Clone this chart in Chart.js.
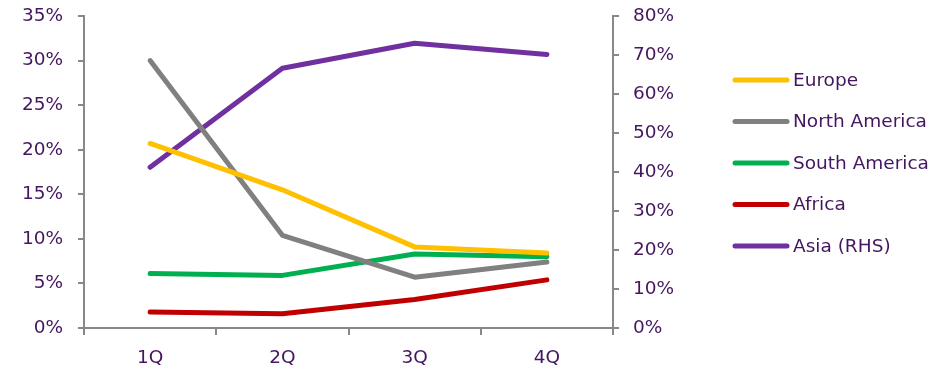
<!DOCTYPE html>
<html>
<head>
<meta charset="utf-8">
<script src="https://cdn.jsdelivr.net/npm/chart.js@4.4.1/dist/chart.umd.min.js"></script>
<style>
  html, body { margin: 0; padding: 0; background: #ffffff; }
  #wrap { width: 933px; height: 370px; position: relative; }
</style>
</head>
<body>
<div id="wrap"><canvas id="chart"></canvas></div>
<script>
// Regional shares by quarter (per cent)
const quarters = ['1Q', '2Q', '3Q', '4Q'];
const europe = [20.7, 15.5, 9.1, 8.4];
const northAmerica = [30.0, 10.4, 5.7, 7.4];
const southAmerica = [6.1, 5.9, 8.3, 8.0];
const africa = [1.8, 1.6, 3.2, 5.4];
const asiaRhs = [41.2, 66.6, 73.0, 70.1];

const leftTicks = [0, 5, 10, 15, 20, 25, 30, 35];
const rightTicks = [0, 10, 20, 30, 40, 50, 60, 70, 80];

const TEXT = '#44165f';
const AXIS = '#888888';
const FONT = { family: '"DejaVu Sans", Verdana, sans-serif', size: 18.5 };
const LINE_W = 5;

function series(label, data, color, axis) {
  return {
    label, data, yAxisID: axis,
    borderColor: color, backgroundColor: color,
    borderWidth: LINE_W, pointRadius: 0, tension: 0,
    borderCapStyle: 'round', borderJoinStyle: 'round'
  };
}

// Legend drawn to the right of the plot from the dataset labels and colours
const sideLegend = {
  id: 'sideLegend',
  afterDraw(chart) {
    const ctx = chart.ctx;
    const x0 = 735, x1 = 787, textX = 793, y0 = 80, step = 41.5;
    ctx.save();
    ctx.font = `${FONT.size}px ${FONT.family}`;
    ctx.textBaseline = 'middle';
    ctx.textAlign = 'left';
    chart.data.datasets.forEach((ds, i) => {
      const y = y0 + i * step;
      ctx.strokeStyle = ds.borderColor;
      ctx.lineWidth = LINE_W;
      ctx.lineCap = 'round';
      ctx.beginPath();
      ctx.moveTo(x0, y);
      ctx.lineTo(x1, y);
      ctx.stroke();
      ctx.fillStyle = TEXT;
      ctx.fillText(ds.label, textX, y + 1);
    });
    ctx.restore();
  }
};

// Fixed axis sizes so the plot spans x 84..613, y 16..328
function fitVertical(width) {
  return scale => {
    scale.width = width;
    scale.paddingTop = 0;
    scale.paddingBottom = 0;
  };
}

new Chart(document.getElementById('chart'), {
  type: 'line',
  data: {
    labels: quarters,
    datasets: [
      series('Europe', europe, '#ffc000', 'yL'),
      series('North America', northAmerica, '#808080', 'yL'),
      series('South America', southAmerica, '#00b050', 'yL'),
      series('Africa', africa, '#c00000', 'yL'),
      series('Asia (RHS)', asiaRhs, '#7030a0', 'yR')
    ]
  },
  options: {
    responsive: true,
    maintainAspectRatio: false,
    animation: false,
    layout: { padding: { left: 0, right: 260, top: 16, bottom: 0 } },
    plugins: { legend: { display: false }, tooltip: { enabled: false } },
    scales: {
      x: {
        type: 'category',
        offset: true,
        grid: { display: true, offset: true, drawOnChartArea: false, drawTicks: true, tickLength: 7, color: AXIS, lineWidth: 2 },
        border: { display: true, color: AXIS, width: 2 },
        ticks: { color: TEXT, font: FONT, padding: 12 },
        afterFit(scale) { scale.height = 42; scale.paddingLeft = 0; scale.paddingRight = 0; }
      },
      yL: {
        position: 'left',
        min: 0, max: 35,
        afterBuildTicks(scale) { scale.ticks = leftTicks.map(v => ({ value: v })); },
        grid: { drawOnChartArea: false, drawTicks: true, tickLength: 6, color: AXIS, lineWidth: 2 },
        border: { display: true, color: AXIS, width: 2 },
        ticks: { color: TEXT, font: FONT, padding: 15, callback: v => v + '%' },
        afterFit: fitVertical(84)
      },
      yR: {
        position: 'right',
        min: 0, max: 80,
        afterBuildTicks(scale) { scale.ticks = rightTicks.map(v => ({ value: v })); },
        grid: { drawOnChartArea: false, drawTicks: true, tickLength: 6, color: AXIS, lineWidth: 2 },
        border: { display: true, color: AXIS, width: 2 },
        ticks: { color: TEXT, font: FONT, padding: 14, callback: v => v + '%' },
        afterFit: fitVertical(60)
      }
    }
  },
  plugins: [sideLegend]
});
</script>
</body>
</html>
